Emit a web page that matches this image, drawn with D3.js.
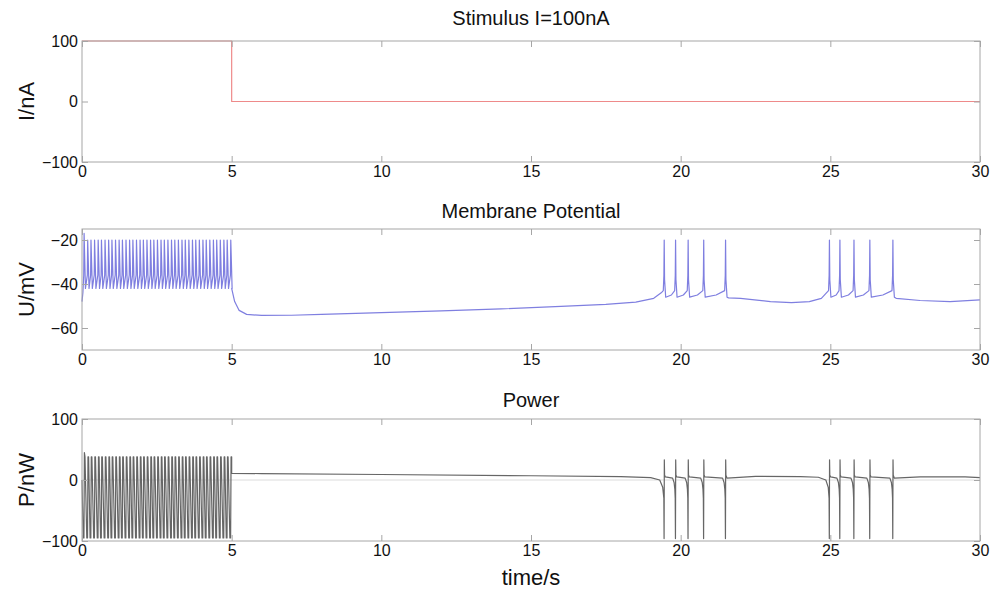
<!DOCTYPE html>
<html><head><meta charset="utf-8">
<script src="https://cdn.jsdelivr.net/npm/d3@7"></script>
<style>
body{margin:0;background:#fff;}
svg{display:block;font-family:"Liberation Sans",Arial,sans-serif;}
</style></head>
<body><svg id="c" width="1005" height="591"></svg>
<script>
// ---------------- data ----------------
const titles = ["Stimulus I=100nA", "Membrane Potential", "Power"];
const yLabels = ["I/nA", "U/mV", "P/nW"];
const xLabel = "time/s";
const xTicks = [0, 5, 10, 15, 20, 25, 30];
const yTicksStim = [-100, 0, 100];
const yTicksU = [-60, -40, -20];
const yTicksP = [-100, 0, 100];

// stimulus current (time s, nA)
const stimT = [0, 5, 5, 30];
const stimI = [100, 100, 0, 0];

// tonic spike times during stimulation (s)
const tonicSpikes = [0.07,0.19,0.30,0.42,0.54,0.65,0.77,0.89,1.00,1.12,1.24,1.35,1.47,1.59,1.70,1.82,1.94,2.05,2.17,2.29,2.40,2.52,2.64,2.75,2.87,2.99,3.10,3.22,3.34,3.45,3.57,3.69,3.80,3.92,4.04,4.15,4.27,4.39,4.50,4.62,4.74,4.85,4.97];
const tonicPeakU = -20, tonicTroughU = -42, firstPeakU = -17, startU = -48;
const tonicPeakP = 38, tonicTroughP = -95, firstPeakP = 45;

// burst spike times (s)
const burst1 = [19.45, 19.83, 20.25, 20.77, 21.50];
const burst2 = [24.97, 25.32, 25.79, 26.32, 27.09];
const burstPeakU = -20, burstTroughU = -46;
const burstPeakP = 33, burstTroughP = -96;

// slow membrane baseline segments (time, mV)
const restT1 = [5.0, 5.1, 5.25, 5.5, 6, 7, 8, 10, 12, 14, 16, 17.5, 18.5, 19.1, 19.35];
const restU1 = [-42, -48, -52, -53.8, -54.3, -54.2, -53.8, -53, -52.2, -51.3, -50.2, -49.3, -48.2, -46.5, -44];
const restT2 = [21.6, 22.0, 23.0, 23.7, 24.3, 24.7, 24.87];
const restU2 = [-46.3, -46.5, -48, -48.5, -48, -46.5, -44];
const restT3 = [27.2, 28.0, 29.0, 30.0];
const restU3 = [-46.5, -47.5, -48, -47.2];

// power baseline segments (time, nW)
const pRestT1 = [5.0, 6, 10, 15, 18, 19.0, 19.3, 19.4];
const pRestP1 = [11, 10.5, 9, 7, 5.5, 4, 0, -12];
const pRestT2 = [21.55, 22.5, 24.0, 24.6, 24.85, 24.93];
const pRestP2 = [3, 6, 5.5, 4.5, 0, -12];
const pRestT3 = [27.14, 28.0, 29.5, 30.0];
const pRestP3 = [3, 5, 5, 4];

// ---------------- layout ----------------
const svg = d3.select("#c");
const x = d3.scaleLinear().domain([0, 30]).range([82, 980]);
const panels = [
  {top: 41, bottom: 162, domain: [-100, 100], ticks: yTicksStim, titleY: 25},
  {top: 229, bottom: 350, domain: [-70, -15], ticks: yTicksU, titleY: 218},
  {top: 419, bottom: 541, domain: [-100, 100], ticks: yTicksP, titleY: 407}
];
panels.forEach(p => p.y = d3.scaleLinear().domain(p.domain).range([p.bottom, p.top]));

const frameColor = "#a6a6a6";

// ---------------- series construction ----------------
function zip(ts, vs){ return ts.map((t,i)=>[t, vs[i]]); }

// membrane potential
const uPts = [[0, startU], [0.03, -44]];
tonicSpikes.forEach((ts, i) => {
  uPts.push([ts - 0.012, tonicTroughU + 6]);
  uPts.push([ts, i === 0 ? firstPeakU : tonicPeakU]);
  uPts.push([ts + 0.045, tonicTroughU]);
});
function burstU(times){
  const pts = [];
  times.forEach((ts, i) => {
    pts.push([ts - 0.03, burstTroughU + 3]);
    pts.push([ts - 0.01, burstTroughU + 10]);
    pts.push([ts, burstPeakU]);
    pts.push([ts + 0.012, burstTroughU + 8]);
    pts.push([ts + 0.05, burstTroughU]);
    if (i < times.length - 1) {
      const nx = times[i+1];
      pts.push([ts + 0.05 + (nx - ts) * 0.5, burstTroughU + 1]);
    }
  });
  return pts;
}
const uSeries = uPts.concat(zip(restT1, restU1), burstU(burst1), zip(restT2, restU2), burstU(burst2), zip(restT3, restU3));

// power
const pPts = [[0, 0]];
tonicSpikes.forEach((ts, i) => {
  pPts.push([ts - 0.03, tonicTroughP]);
  pPts.push([ts - 0.005, tonicTroughP]);
  pPts.push([ts + 0.01, i === 0 ? firstPeakP : tonicPeakP]);
  pPts.push([ts + 0.03, tonicPeakP]);
});
function burstP(times){
  const pts = [];
  times.forEach((ts, i) => {
    pts.push([ts - 0.012, -30]);
    pts.push([ts - 0.004, burstTroughP]);
    pts.push([ts + 0.004, burstPeakP]);
    pts.push([ts + 0.012, 8]);
    if (i < times.length - 1) {
      const nx = times[i+1];
      pts.push([ts + 0.04, 5]);
      pts.push([nx - 0.1, 3]);
      pts.push([nx - 0.05, -4]);
      pts.push([nx - 0.025, -15]);
    }
  });
  return pts;
}
const pSeries = pPts.concat(zip(pRestT1, pRestP1), burstP(burst1), zip(pRestT2, pRestP2), burstP(burst2), zip(pRestT3, pRestP3));

const stimSeries = zip(stimT, stimI);

// ---------------- draw ----------------
const series = [
  {data: stimSeries, color: "#ee8a8a", width: 1.2},
  {data: uSeries, color: "#7f7fe0", width: 1.2},
  {data: pSeries, color: "#666666", width: 1.2}
];

panels.forEach((p, k) => {
  const g = svg.append("g");
  const y = p.y;
  if (k === 2) {
    g.append("line").attr("x1", x(0)).attr("x2", x(30)).attr("y1", y(0)).attr("y2", y(0))
      .attr("stroke", "#dcdcdc").attr("stroke-width", 1);
  }
  g.append("path").datum(series[k].data)
    .attr("fill", "none").attr("stroke", series[k].color).attr("stroke-width", series[k].width)
    .attr("stroke-linejoin", "round")
    .attr("d", d3.line().x(d => x(d[0])).y(d => y(d[1])));

  g.append("rect").attr("x", x(0)).attr("y", p.top).attr("width", x(30) - x(0)).attr("height", p.bottom - p.top)
    .attr("fill", "none").attr("stroke", frameColor).attr("stroke-width", 1);

  const ab = g.append("g").attr("transform", `translate(0,${p.bottom})`)
    .call(d3.axisBottom(x).tickValues(xTicks).tickSizeInner(-6).tickSizeOuter(0).tickPadding(4).tickFormat(d3.format("d")));
  const at = g.append("g").attr("transform", `translate(0,${p.top})`)
    .call(d3.axisTop(x).tickValues(xTicks).tickSizeInner(-6).tickSizeOuter(0).tickFormat(""));
  const al = g.append("g").attr("transform", `translate(${x(0)},0)`)
    .call(d3.axisLeft(y).tickValues(p.ticks).tickSizeInner(-6).tickSizeOuter(0).tickPadding(4).tickFormat(d3.format("d")));
  const ar = g.append("g").attr("transform", `translate(${x(30)},0)`)
    .call(d3.axisRight(y).tickValues(p.ticks).tickSizeInner(-6).tickSizeOuter(0).tickFormat(""));
  [ab, at, al, ar].forEach(a => {
    a.select(".domain").remove();
    a.selectAll(".tick line").attr("stroke", frameColor);
    a.selectAll("text").attr("fill", "#111").style("font-size", "16px").style("font-family", '"Liberation Sans", Arial, sans-serif');
  });

  g.append("text").attr("x", 531).attr("y", p.titleY).attr("text-anchor", "middle")
    .style("font-size", "20px").attr("fill", "#111").text(titles[k]);
  g.append("text").attr("transform", `translate(34,${(p.top + p.bottom) / 2}) rotate(-90)`)
    .attr("text-anchor", "middle").style("font-size", "22px").attr("fill", "#111").text(yLabels[k]);
});

svg.append("text").attr("x", 531).attr("y", 585).attr("text-anchor", "middle")
  .style("font-size", "22px").attr("fill", "#111").text(xLabel);
</script>
</body></html>
